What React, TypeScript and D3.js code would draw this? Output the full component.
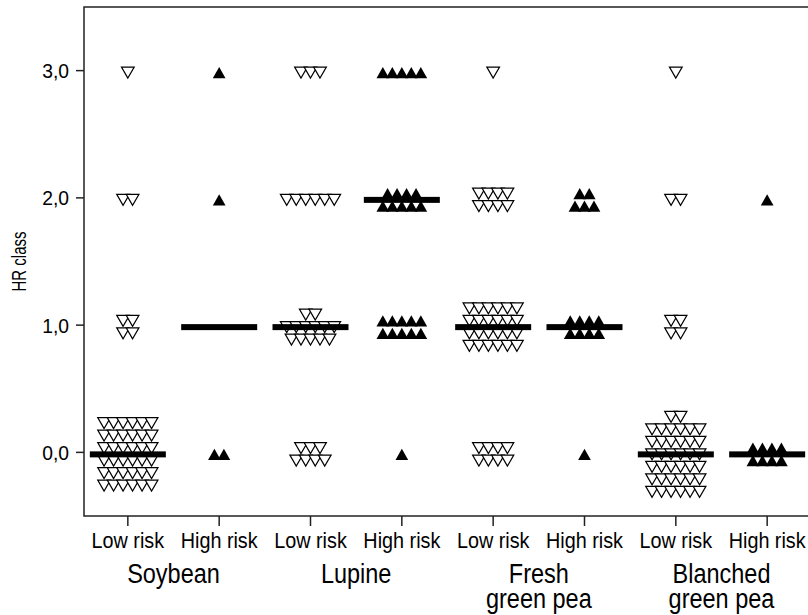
import * as d3 from "d3";

const width = 808;
const height = 615;
const margin = { left: 84, top: 7, bottom: 516, right: 811 };

const hrTicks = [0, 1, 2, 3];
const hrTickLabels = ["0,0", "1,0", "2,0", "3,0"];
const riskLabels = ["Low risk", "High risk"];
const foodLabels = [["Soybean"], ["Lupine"], ["Fresh", "green pea"], ["Blanched", "green pea"]];

// rows of stacked markers (top row first) at HR class 0, 1, 2, 3
const soybeanLow = [[6, 6, 6, 6, 6, 6], [2, 2], [2], [1]];
const soybeanHigh = [[2], [], [1], [1]];
const lupineLow = [[3, 4], [2, 6, 5], [6], [3]];
const lupineHigh = [[1], [5, 5], [4, 5], [5]];
const freshLow = [[4, 4], [6, 6, 6, 6], [4, 4], [1]];
const freshHigh = [[1], [4, 4], [2, 3], []];
const blanchedLow = [[2, 6, 6, 6, 6, 6, 6], [2, 2], [2], [1]];
const blanchedHigh = [[4, 4], [], [1], []];

const stacks = [soybeanLow, soybeanHigh, lupineLow, lupineHigh, freshLow, freshHigh, blanchedLow, blanchedHigh];
const medians = [0, 1, 1, 2, 1, 1, 0, 0];

const colGap = 9.5;
const rowGap = 12.5;
const triSize = 70;

// condensed text helper
const Label = ({ x, y, size, sx, children, anchor = "middle", rotate = 0 }: any) => (
  <text
    transform={`translate(${x},${y}) rotate(${rotate}) scale(${sx},1)`}
    textAnchor={anchor}
    fontSize={size}
  >
    {children}
  </text>
);

export default function App() {
  const keys = stacks.map((_, i) => String(i));
  const x = d3.scalePoint<string>().domain(keys).range([margin.left, margin.right]).padding(0.48);
  const y = d3.scaleLinear().domain([-0.5, 3.5]).range([margin.bottom, margin.top]);

  const tri = d3.symbol(d3.symbolTriangle, triSize)()!;
  const h = Math.sqrt((triSize * 4) / Math.sqrt(3)) * (Math.sqrt(3) / 2);
  const shift = h / 6;

  const marks: any[] = [];
  stacks.forEach((stack, gi) => {
    const high = gi % 2 === 1;
    const cx = x(keys[gi])!;
    stack.forEach((rows, vi) => {
      const r = rows.length;
      rows.forEach((n, ri) => {
        const yy = y(hrTicks[vi]) + 2 + (ri - (r - 1) / 2) * rowGap;
        for (let j = 0; j < n; j++) {
          const xx = cx + (j - (n - 1) / 2) * colGap;
          marks.push(
            high ? (
              <path key={`${gi}-${vi}-${ri}-${j}`} d={tri} transform={`translate(${xx},${yy + shift})`} fill="#000" />
            ) : (
              <path
                key={`${gi}-${vi}-${ri}-${j}`}
                d={tri}
                transform={`translate(${xx},${yy - shift}) rotate(180)`}
                fill="#fff"
                stroke="#000"
                strokeWidth={1.2}
              />
            )
          );
        }
      });
    });
  });

  return (
    <svg width={width} height={height} style={{ position: "absolute", left: 0, top: 0 }} fontFamily="Liberation Sans, Arial, sans-serif">
      <rect x={0} y={0} width={width} height={height} fill="#fff" />
      <rect x={margin.left} y={margin.top} width={margin.right - margin.left + 2} height={margin.bottom - margin.top} fill="none" stroke="#222" strokeWidth={1.5} />
      {hrTicks.map((t, i) => (
        <g key={t}>
          <line x1={76} x2={margin.left} y1={y(t)} y2={y(t)} stroke="#222" strokeWidth={1.5} />
          <Label x={69} y={y(t) + 7.5} size={21} sx={0.92} anchor="end">
            {hrTickLabels[i]}
          </Label>
        </g>
      ))}
      <Label x={26} y={(margin.top + margin.bottom) / 2} size={20} sx={0.75} rotate={-90}>
        HR class
      </Label>
      {keys.map((k, i) => (
        <g key={k}>
          <line x1={x(k)} x2={x(k)} y1={margin.bottom} y2={margin.bottom + 10} stroke="#222" strokeWidth={1.5} />
          <Label x={x(k)} y={548} size={22} sx={0.9}>
            {riskLabels[i % 2]}
          </Label>
        </g>
      ))}
      {foodLabels.map((lines, fi) => {
        const cx = (x(keys[fi * 2])! + x(keys[fi * 2 + 1])!) / 2;
        return lines.map((l, li) => (
          <Label key={`${fi}-${li}`} x={cx} y={583 + li * 25} size={27} sx={0.87}>
            {l}
          </Label>
        ));
      })}
      {marks}
      {medians.map((m, i) => (
        <rect key={i} x={x(keys[i])! - 38} y={y(m) - 1} width={76} height={6} fill="#000" />
      ))}
    </svg>
  );
}
